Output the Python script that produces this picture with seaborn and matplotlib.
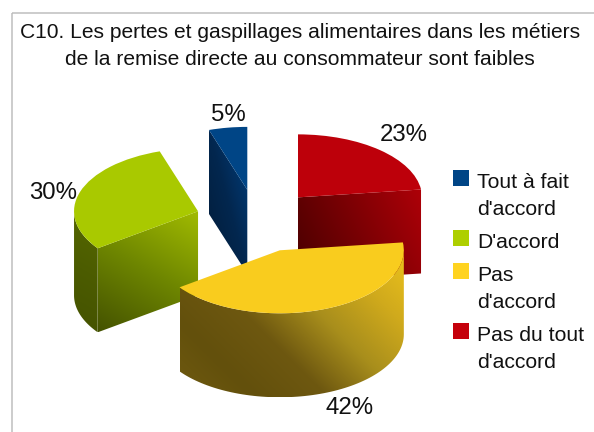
#!/usr/bin/env python3
# C10 chart: exploded pseudo-3D pie with gradient walls.

import numpy as np
import seaborn as sns
import matplotlib
matplotlib.use("Agg")
import matplotlib.pyplot as plt
from matplotlib.patches import Polygon, Rectangle

categories = ["Tout à fait\nd'accord", "D'accord", "Pas\nd'accord", "Pas du tout\nd'accord"]
values = [5, 30, 42, 23]
title = "C10. Les pertes et gaspillages alimentaires dans les métiers\nde la remise directe au consommateur sont faibles"

legendColors = ["#004586", "#aecf00", "#ffd320", "#c5000b"]
topColors = ["#004586", "#a9c900", "#f9cc1e", "#bd000a"]

W, H = 594, 432
CX, CY = 257, 221  # pie centre, px
RX, RY = 124, 63  # top ellipse radii, px
DEPTH = 84 / RY
EXPLODE = 0.5

sns.set_theme(style="white")
plt.rcParams['font.family'] = ['Liberation Sans', 'DejaVu Sans']


def px(x, y):
  """Image pixel to data coords"""
  return (x - CX) / RX, (CY - y) / RY


def gradientFill(ax, poly, colors, angle, zorder):
  cmap = sns.blend_palette(colors, as_cmap=True)
  poly = np.array(poly)
  x0, y0 = poly.min(axis=0)
  x1, y1 = poly.max(axis=0)
  xx, yy = np.meshgrid(np.linspace(x0, x1, 300), np.linspace(y0, y1, 300))
  a = np.radians(angle)
  t = (xx - x0) * RX * np.cos(a) + (yy - y0) * RY * np.sin(a)
  t = (t - t.min()) / (t.max() - t.min())
  im = ax.imshow(t, extent=(x0, x1, y0, y1), origin='lower', aspect='auto', cmap=cmap,
                 vmin=0, vmax=1, zorder=zorder, interpolation='bilinear')
  patch = Polygon(poly, closed=True, transform=ax.transData, facecolor='none', edgecolor='none')
  ax.add_patch(patch)
  im.set_clip_path(patch)


def rim(apex, a0, a1):
  th = np.radians(np.linspace(a0, a1, 80))
  return np.column_stack((apex[0] + np.cos(th), apex[1] + np.sin(th)))


def extrude(top):
  bottom = top[::-1] - [0, DEPTH]
  return np.vstack((top, bottom))


fig = plt.figure(figsize=(W / 100, H / 100), dpi=100)
ax = fig.add_axes([0, 0, 1, 1])

wedges, _ = ax.pie(values, colors=topColors, startangle=90, counterclock=True,
                   explode=[EXPLODE] * len(values), center=(0, 0), radius=1,
                   wedgeprops={'linewidth': 0})

angles = 90 + np.concatenate(([0], np.cumsum(values))) * 3.6
apexes = []
for i in range(len(values)):
  mid = np.radians((angles[i] + angles[i + 1]) / 2)
  apexes.append((EXPLODE * np.cos(mid), EXPLODE * np.sin(mid)))

# paint back to front: blue, red, green, yellow
zBlue, zGreen, zYellow, zRed = 1, 3, 4, 2
for w, z in zip(wedges, [zBlue, zGreen, zYellow, zRed]):
  w.set_zorder(z + 0.5)

# blue cut face
apex = apexes[0]
edge = np.array([apex, rim(apex, angles[1], angles[1])[0]])
gradientFill(ax, extrude(edge), ["#021c38", "#03274f", "#004080"], 15, zBlue)

# green cut face and outer wall
apex = apexes[1]
edge = np.array([rim(apex, angles[2], angles[2])[0], apex])
gradientFill(ax, extrude(edge), ["#445200", "#6e8600", "#a2bc00"], 60, zGreen)
gradientFill(ax, extrude(rim(apex, 180, angles[2])), ["#445200", "#4c5c00", "#566800"], 60, zGreen)

# yellow outer wall
apex = apexes[2]
gradientFill(ax, extrude(rim(apex, angles[2], 360)),
             ["#6f5a10", "#63500c", "#6e5810", "#a88e1c", "#d0aa1c", "#ecc21c"], 45, zYellow)

# red cut face
apex = apexes[3]
edge = np.array([apex, rim(apex, angles[3], angles[3])[0]])
gradientFill(ax, extrude(edge), ["#470000", "#7a0004", "#ae0008"], 25, zRed)

ax.set_aspect('auto')
ax.set_xlim(-CX / RX, (W - CX) / RX)
ax.set_ylim((CY - H) / RY, CY / RY)
ax.axis('off')

# chart frame, only top and left fall inside the image
x0, y0 = px(12, 13)
x1, y1 = px(W + 5, H + 5)
ax.add_patch(Rectangle((x0, y0), x1 - x0, y1 - y0, fill=False, edgecolor='#bebebe', linewidth=1.1, zorder=0))

# percent labels
labelPos = [(228, 115), (53, 193), (350, 408), (404, 135)]
for v, (lx, ly) in zip(values, labelPos):
  tx, ty = px(lx, ly)
  ax.text(tx, ty, "{}%".format(v), fontsize=17.3, color='#111111', ha='center', va='center', zorder=10)

# title
tx, ty = px(300, 46)
ax.text(tx, ty, title, fontsize=15.1, color='#111111', ha='center', va='center', ma='center', linespacing=1.55, zorder=10)

# legend
legendY = [170, 230, 263, 323]
for cat, col, ly in zip(categories, legendColors, legendY):
  rx0, ry0 = px(453, ly + 16)
  rx1, ry1 = px(469, ly)
  ax.add_patch(Rectangle((rx0, ry0), rx1 - rx0, ry1 - ry0, facecolor=col, edgecolor='none', zorder=10))
  tx, ty = px(477, ly + 3)
  ax.text(tx, ty, cat, fontsize=15.2, color='#111111', ha='left', va='top', linespacing=1.55, zorder=10)

fig.savefig('out.png', dpi=100)
